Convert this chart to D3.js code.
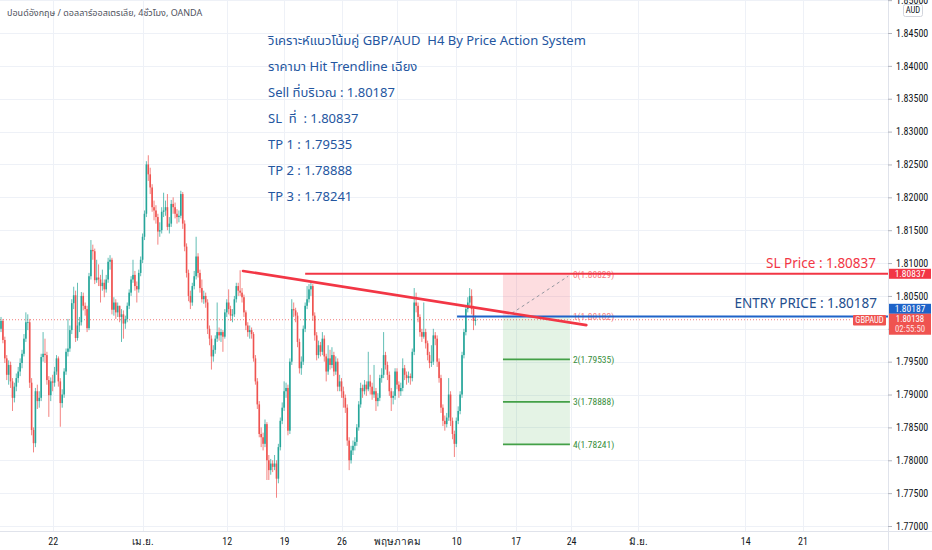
<!DOCTYPE html>
<html><head><meta charset="utf-8">
<script src="https://cdn.jsdelivr.net/npm/d3@7"></script>
<style>
html,body{margin:0;padding:0;background:#fff;}
svg{display:block;}
</style></head>
<body>
<svg id="c" width="932" height="550"></svg>
<script>
// ---------------- DATA ----------------
const firstOpen = 1.8000;
const closes = [
1.8012,1.7983,1.7955,1.7930,1.7945,1.7920,1.7895,1.7912,1.7925,1.7935,
1.7948,1.7962,1.7985,1.8010,1.8010,1.7918,1.7846,1.7826,1.7905,1.7890,
1.7895,1.7957,1.7962,1.7960,1.7922,1.7899,1.7920,1.7918,1.7935,1.7955,
1.7920,1.7887,1.7900,1.7935,1.7965,1.7970,1.7998,1.8039,1.8051,1.7986,
1.8005,1.8010,1.8050,1.8035,1.8030,1.8001,1.8080,1.8120,1.8118,1.8074,
1.8078,1.8075,1.8065,1.8070,1.8060,1.8075,1.8102,1.8105,1.8029,1.8040,
1.8025,1.8035,1.8018,1.8022,1.8008,1.8015,1.8035,1.8055,1.8075,1.8082,
1.8065,1.8060,1.8085,1.8105,1.8140,1.8175,1.8250,1.8235,1.8215,1.8185,
1.8180,1.8170,1.8148,1.8150,1.8178,1.8180,1.8185,1.8155,1.8160,1.8190,
1.8185,1.8175,1.8170,1.8172,1.8205,1.8160,1.8125,1.8085,1.8050,1.8040,
1.8065,1.8080,1.8110,1.8085,1.8062,1.8045,1.8050,1.8040,1.8000,1.7985,
1.7958,1.7968,1.7985,1.7995,1.7990,1.7995,1.7988,1.8025,1.8040,1.8030,
1.8020,1.8022,1.8045,1.8065,1.8058,1.8055,1.8048,1.8025,1.8005,1.7995,
1.7998,1.7992,1.7955,1.7920,1.7885,1.7840,1.7835,1.7825,1.7855,1.7800,
1.7785,1.7795,1.7790,1.7795,1.7772,1.7820,1.7860,1.7880,1.7905,1.7910,
1.7845,1.7950,1.8030,1.8028,1.8020,1.7980,1.7940,1.7950,1.8000,1.8035,
1.8045,1.8060,1.8065,1.8020,1.7990,1.7960,1.7975,1.7965,1.7985,1.7958,
1.7935,1.7955,1.7945,1.7960,1.7935,1.7950,1.7912,1.7920,1.7905,1.7895,
1.7880,1.7830,1.7800,1.7815,1.7822,1.7828,1.7850,1.7885,1.7910,1.7905,
1.7915,1.7908,1.7920,1.7912,1.7900,1.7905,1.7890,1.7895,1.7925,1.7930,
1.7960,1.7945,1.7930,1.7905,1.7895,1.7898,1.7935,1.7915,1.7905,1.7910,
1.7940,1.7930,1.7925,1.7928,1.7925,1.7965,1.8040,1.8035,1.8018,1.7995,
1.7988,1.7995,1.7978,1.7960,1.7948,1.7950,1.7990,1.7985,1.7950,1.7925,
1.7880,1.7860,1.7855,1.7865,1.7900,1.7860,1.7840,1.7825,1.7860,1.7875,
1.7900,1.7960,1.7995,1.8030,1.8040,1.8050,1.8030,1.8012,1.80138
];
const highs = [
1.8018,1.8015,1.7988,1.7960,1.7952,1.7950,1.7925,1.7918,1.7932,1.7942,
1.7955,1.7968,1.7992,1.8025,1.8022,1.8015,1.7925,1.7850,1.7910,1.7915,
1.7905,1.7962,1.7995,1.7985,1.7965,1.7928,1.7926,1.7930,1.7942,1.7960,
1.7958,1.7925,1.7908,1.7940,1.7970,1.8015,1.8005,1.8045,1.8064,1.8058,
1.8070,1.8018,1.8056,1.8055,1.8040,1.8035,1.8085,1.8135,1.8128,1.8122,
1.8105,1.8098,1.8082,1.8090,1.8075,1.8082,1.8108,1.8112,1.8108,1.8048,
1.8045,1.8040,1.8035,1.8030,1.8028,1.8020,1.8040,1.8060,1.8080,1.8105,
1.8088,1.8072,1.8090,1.8110,1.8145,1.8180,1.8255,1.8264,1.8245,1.8220,
1.8195,1.8188,1.8175,1.8162,1.8185,1.8207,1.8195,1.8205,1.8170,1.8196,
1.8200,1.8192,1.8182,1.8180,1.8210,1.8208,1.8165,1.8130,1.8090,1.8058,
1.8070,1.8088,1.8140,1.8115,1.8090,1.8075,1.8058,1.8055,1.8045,1.8005,
1.7990,1.7975,1.7990,1.8040,1.8002,1.8000,1.7998,1.8030,1.8045,1.8060,
1.8035,1.8030,1.8050,1.8070,1.8070,1.8089,1.8062,1.8052,1.8028,1.8010,
1.8005,1.8002,1.7995,1.7960,1.7925,1.7890,1.7850,1.7842,1.7862,1.7858,
1.7808,1.7802,1.7800,1.7808,1.7800,1.7825,1.7865,1.7888,1.7920,1.7918,
1.7915,1.7955,1.8045,1.8040,1.8032,1.8025,1.7985,1.7958,1.8005,1.8040,
1.8065,1.8068,1.8072,1.8068,1.8025,1.7995,1.7982,1.7980,1.7995,1.7990,
1.7962,1.7975,1.7968,1.7972,1.7965,1.7958,1.7955,1.7930,1.7925,1.7912,
1.7900,1.7885,1.7835,1.7822,1.7830,1.7835,1.7855,1.7890,1.7918,1.7915,
1.7922,1.7920,1.7965,1.7930,1.7918,1.7945,1.7910,1.7902,1.7930,1.7940,
1.7995,1.7965,1.7950,1.7935,1.7910,1.7905,1.7940,1.7940,1.7920,1.7918,
1.7955,1.7945,1.7935,1.7935,1.7932,1.7970,1.8062,1.8055,1.8040,1.8022,
1.8000,1.8040,1.8000,1.7982,1.7965,1.7975,1.8000,1.7995,1.7990,1.7955,
1.7930,1.7885,1.7868,1.7872,1.7925,1.7905,1.7865,1.7845,1.7865,1.7882,
1.7905,1.7965,1.8000,1.8035,1.8048,1.8062,1.8060,1.8035,1.8020
];
const lows = [
1.7995,1.7978,1.7948,1.7922,1.7915,1.7910,1.7875,1.7888,1.7905,1.7918,
1.7928,1.7940,1.7958,1.7980,1.7998,1.7910,1.7838,1.7812,1.7820,1.7878,
1.7880,1.7890,1.7950,1.7948,1.7915,1.7866,1.7890,1.7905,1.7912,1.7930,
1.7912,1.7851,1.7880,1.7895,1.7930,1.7958,1.7965,1.7992,1.8030,1.7980,
1.7982,1.7995,1.8005,1.8028,1.8020,1.7995,1.7998,1.8075,1.8105,1.8068,
1.8070,1.8065,1.8040,1.8058,1.8048,1.8055,1.8070,1.8090,1.8022,1.8020,
1.8015,1.8018,1.8010,1.7980,1.7985,1.8000,1.8010,1.8030,1.8050,1.8070,
1.8058,1.8040,1.8055,1.8080,1.8100,1.8135,1.8170,1.8225,1.8205,1.8178,
1.8165,1.8160,1.8128,1.8140,1.8145,1.8170,1.8172,1.8150,1.8145,1.8155,
1.8175,1.8168,1.8160,1.8162,1.8168,1.8152,1.8118,1.8078,1.8042,1.8030,
1.8035,1.8060,1.8075,1.8078,1.8055,1.8040,1.8038,1.8032,1.7992,1.7975,
1.7938,1.7950,1.7962,1.7980,1.7982,1.7980,1.7965,1.7985,1.8018,1.8022,
1.8012,1.8010,1.8018,1.8040,1.8050,1.8050,1.8040,1.8018,1.7998,1.7988,
1.7985,1.7985,1.7950,1.7915,1.7878,1.7835,1.7820,1.7815,1.7820,1.7770,
1.7770,1.7778,1.7782,1.7785,1.7743,1.7765,1.7815,1.7855,1.7875,1.7895,
1.7838,1.7840,1.7945,1.8018,1.8010,1.7972,1.7932,1.7930,1.7945,1.7995,
1.8030,1.8040,1.8050,1.8012,1.7982,1.7952,1.7955,1.7958,1.7960,1.7950,
1.7920,1.7930,1.7938,1.7940,1.7928,1.7930,1.7905,1.7905,1.7895,1.7880,
1.7872,1.7822,1.7785,1.7795,1.7808,1.7815,1.7822,1.7845,1.7880,1.7895,
1.7900,1.7898,1.7905,1.7900,1.7892,1.7895,1.7875,1.7882,1.7890,1.7918,
1.7925,1.7938,1.7922,1.7898,1.7875,1.7885,1.7892,1.7908,1.7895,1.7898,
1.7905,1.7922,1.7915,1.7918,1.7915,1.7920,1.7960,1.8025,1.8010,1.7988,
1.7980,1.7985,1.7970,1.7952,1.7940,1.7942,1.7945,1.7975,1.7942,1.7918,
1.7872,1.7852,1.7845,1.7850,1.7860,1.7852,1.7832,1.7805,1.7820,1.7855,
1.7870,1.7895,1.7955,1.7990,1.8025,1.8035,1.8022,1.7998,1.8005
];
const yTicks = [1.770,1.775,1.780,1.785,1.790,1.795,1.800,1.805,1.810,1.815,1.820,1.825,1.830,1.835,1.840,1.845,1.850];
const xTickBars = [27, 74, 118, 148, 178, 207, 238, 269, 298, 333, 389, 419];
const xTickLabels = ["22","เม.ย.","12","19","26","พฤษภาคม","10","17","24","มิ.ย.","14","21"];
const slPrice = 1.80837, entryPrice = 1.80187, lastPrice = 1.80138;
const lastTime = "02:55:50";
const symbol = "GBPAUD";
const fibLevels = [1.80829, 1.80182, 1.79535, 1.78888, 1.78241];
const fibLabels = ["0(1.80829)","1(1.80182)","2(1.79535)","3(1.78888)","4(1.78241)"];
const fibBars = [262.4, 297.4];
const fibDash = [{bar:267, price:1.80235},{bar:296.5, price:1.80800}];
const trendBars = [126.5, 306];
const trendPrices = [1.8088, 1.80056];
const slStartBar = 159, entryStartBar = 238.4;
const noteLines = [
 "วิเคราะห์แนวโน้มคู่ GBP/AUD  H4 By Price Action System",
 "ราคามา Hit Trendline เฉียง",
 "Sell ที่บริเวณ : 1.80187",
 "SL  ที่  : 1.80837",
 "TP 1 : 1.79535",
 "TP 2 : 1.78888",
 "TP 3 : 1.78241"
];
const headerText = "ปอนด์อังกฤษ / ดอลลาร์ออสเตรเลีย, 4ชั่วโมง, OANDA";

// ---------------- CHART ----------------
const svg = d3.select("#c");
const plotR = 888, plotB = 531;
const x = d3.scaleLinear().domain([0, 248]).range([1, 1 + 1.913 * 248]);
const y = d3.scaleLinear().domain([1.77, 1.845]).range([526, 33]);
const axisFont = "'Liberation Sans Narrow','Roboto Condensed',Roboto,sans-serif";
const textFont = "'Noto Sans','Noto Sans Thai',Roboto,sans-serif";

svg.append("rect").attr("width",932).attr("height",550).attr("fill","#fff");

// grid
const grid = svg.append("g");
grid.selectAll(".hg").data(yTicks).join("line")
  .attr("x1",0).attr("x2",plotR).attr("y1",d=>Math.round(y(d))+0.5).attr("y2",d=>Math.round(y(d))+0.5)
  .attr("stroke","#eef1f7").attr("stroke-width",1);
grid.selectAll(".vg").data(xTickBars).join("line")
  .attr("x1",d=>Math.round(x(d))+0.5).attr("x2",d=>Math.round(x(d))+0.5).attr("y1",0).attr("y2",plotB)
  .attr("stroke","#eef1f7").attr("stroke-width",1);

// fib boxes
const fx0 = x(fibBars[0]), fx1 = x(fibBars[1]);
svg.append("rect").attr("x",fx0).attr("width",fx1-fx0)
  .attr("y",y(fibLevels[0])).attr("height",y(fibLevels[1])-y(fibLevels[0]))
  .attr("fill","rgba(242,54,69,0.17)");
svg.append("rect").attr("x",fx0).attr("width",fx1-fx0)
  .attr("y",y(fibLevels[1])).attr("height",y(fibLevels[4])-y(fibLevels[1]))
  .attr("fill","rgba(76,175,80,0.15)");
svg.selectAll(".fl").data(fibLevels.slice(2)).join("line")
  .attr("x1",fx0).attr("x2",fx1).attr("y1",d=>y(d)).attr("y2",d=>y(d))
  .attr("stroke","#43a047").attr("stroke-width",1.7);
svg.append("line")
  .attr("x1",x(fibDash[0].bar)).attr("y1",y(fibDash[0].price))
  .attr("x2",x(fibDash[1].bar)).attr("y2",y(fibDash[1].price))
  .attr("stroke","#9598a1").attr("stroke-width",1).attr("stroke-dasharray","3,3");

// last price dotted line
svg.append("line").attr("x1",0).attr("x2",852).attr("y1",y(lastPrice)).attr("y2",y(lastPrice))
  .attr("stroke","#ef5350").attr("stroke-width",1).attr("stroke-dasharray","1,2").attr("opacity",0.75);

// candles
const bars = closes.map((c,i)=>({i, o: i===0 ? firstOpen : closes[i-1], c, h: highs[i], l: lows[i]}));
const cg = svg.append("g");
cg.selectAll(".w").data(bars).join("line")
  .attr("x1",d=>x(d.i)).attr("x2",d=>x(d.i)).attr("y1",d=>y(d.h)).attr("y2",d=>y(d.l))
  .attr("stroke",d=>d.c>=d.o?"#26a69a":"#ef5350").attr("stroke-width",0.9).attr("opacity",0.8);
cg.selectAll(".b").data(bars).join("rect")
  .attr("x",d=>x(d.i)-0.8).attr("width",1.6)
  .attr("y",d=>y(Math.max(d.o,d.c)))
  .attr("height",d=>Math.max(0.8, Math.abs(y(d.o)-y(d.c))))
  .attr("fill",d=>d.c>=d.o?"#26a69a":"#ef5350");

// fib labels
svg.selectAll(".ft").data(fibLevels).join("text")
  .attr("x",fx1+3).attr("y",d=>y(d)).attr("dy","0.35em")
  .attr("font-family",axisFont).attr("font-size",9.5)
  .attr("fill",(d,i)=>i<2?"#f77c80":"#388e3c")
  .text((d,i)=>fibLabels[i]);

// SL line, entry line
svg.append("line").attr("x1",x(slStartBar)).attr("x2",plotR).attr("y1",y(slPrice)).attr("y2",y(slPrice))
  .attr("stroke","#f23645").attr("stroke-width",2);
svg.append("line").attr("x1",x(entryStartBar)).attr("x2",plotR).attr("y1",y(entryPrice)).attr("y2",y(entryPrice))
  .attr("stroke","#1e63c8").attr("stroke-width",2);
// trendline
svg.append("line")
  .attr("x1",x(trendBars[0])).attr("y1",y(trendPrices[0]))
  .attr("x2",x(trendBars[1])).attr("y2",y(trendPrices[1]))
  .attr("stroke","#f23645").attr("stroke-width",2.6).attr("stroke-linecap","round");

// price labels on chart
svg.append("text").attr("x",876).attr("y",y(slPrice)-6).attr("text-anchor","end")
  .attr("font-family",textFont).attr("font-size",13.5).attr("fill","#f23645")
  .text("SL Price : " + slPrice.toFixed(5));
svg.append("text").attr("x",877).attr("y",y(entryPrice)-9).attr("text-anchor","end")
  .attr("font-family",textFont).attr("font-size",13.5).attr("fill","#244e8e")
  .text("ENTRY PRICE : " + entryPrice.toFixed(5));

// note block
svg.selectAll(".note").data(noteLines).join("text")
  .attr("x",268).attr("y",(d,i)=>40.7 + i*25.9).attr("dy","0.35em")
  .attr("font-family",textFont).attr("font-size",13).attr("fill","#24569f")
  .style("white-space","pre").attr("xml:space","preserve")
  .text(d=>d);

// header
svg.append("text").attr("x",7).attr("y",13).attr("dy","0.35em")
  .attr("font-family",textFont).attr("font-size",9).attr("fill","#50535e")
  .text(headerText);

// axes borders
svg.append("line").attr("x1",plotR+0.5).attr("x2",plotR+0.5).attr("y1",0).attr("y2",550).attr("stroke","#e0e3eb");
svg.append("line").attr("x1",0).attr("x2",932).attr("y1",plotB+0.5).attr("y2",plotB+0.5).attr("stroke","#e0e3eb");

// right axis (labels hidden where a price box covers them)
const lastBoxTop = y(lastPrice) - 6, lastBoxBot = y(lastPrice) + 15;
const ya = svg.append("g").attr("transform",`translate(${plotR},0)`)
  .call(d3.axisRight(y).tickValues(yTicks).tickSize(4).tickPadding(4)
    .tickFormat(d => (y(d) > lastBoxTop - 3 && y(d) < lastBoxBot + 3) ? "" : d3.format(".5f")(d)));
ya.select(".domain").remove();
ya.selectAll("line").attr("stroke","#b2b5be");
ya.selectAll("text").attr("font-family",axisFont).attr("font-size",10).attr("fill","#131722");

// bottom axis
const xa = svg.append("g").attr("transform",`translate(0,${plotB})`)
  .call(d3.axisBottom(x).tickValues(xTickBars).tickSize(0).tickPadding(7).tickFormat((d,i)=>xTickLabels[i]));
xa.select(".domain").remove();
xa.selectAll("text").attr("font-family",axisFont).attr("font-size",10).attr("fill","#131722");

// currency box
svg.append("rect").attr("x",903.5).attr("y",4.5).attr("width",19).attr("height",12).attr("rx",2)
  .attr("fill","#fff").attr("stroke","#d1d4dc");
svg.append("text").attr("x",913).attr("y",10.5).attr("dy","0.35em").attr("text-anchor","middle")
  .attr("font-family",axisFont).attr("font-size",8.5).attr("fill","#131722").text("AUD");

// axis price boxes
function box(top, h, fill, lines, fs){
  svg.append("rect").attr("x",plotR+1).attr("y",top).attr("width",42).attr("height",h).attr("fill",fill);
  lines.forEach((t,k)=>{
    svg.append("text").attr("x",plotR+22).attr("y",top+5.2+k*10).attr("dy","0.35em").attr("text-anchor","middle")
      .attr("font-family",axisFont).attr("font-size",fs).attr("fill",k===0?"#fff":"#ffe3e3").text(t);
  });
}
box(y(slPrice)-5, 10, "#f23645", [slPrice.toFixed(5)], 9.5);
box(y(entryPrice)-12.7, 10, "#1e63c8", [entryPrice.toFixed(5)], 9.5);
box(lastBoxTop, lastBoxBot - lastBoxTop, "#ef5350", [lastPrice.toFixed(5), lastTime], 8.8);
svg.append("rect").attr("x",853).attr("y",315).attr("width",33).attr("height",10.5).attr("rx",1).attr("fill","#ef5350");
svg.append("text").attr("x",869.5).attr("y",320.2).attr("dy","0.35em").attr("text-anchor","middle")
  .attr("font-family",axisFont).attr("font-size",8.5).attr("fill","#fff").text(symbol);
</script>
</body></html>
